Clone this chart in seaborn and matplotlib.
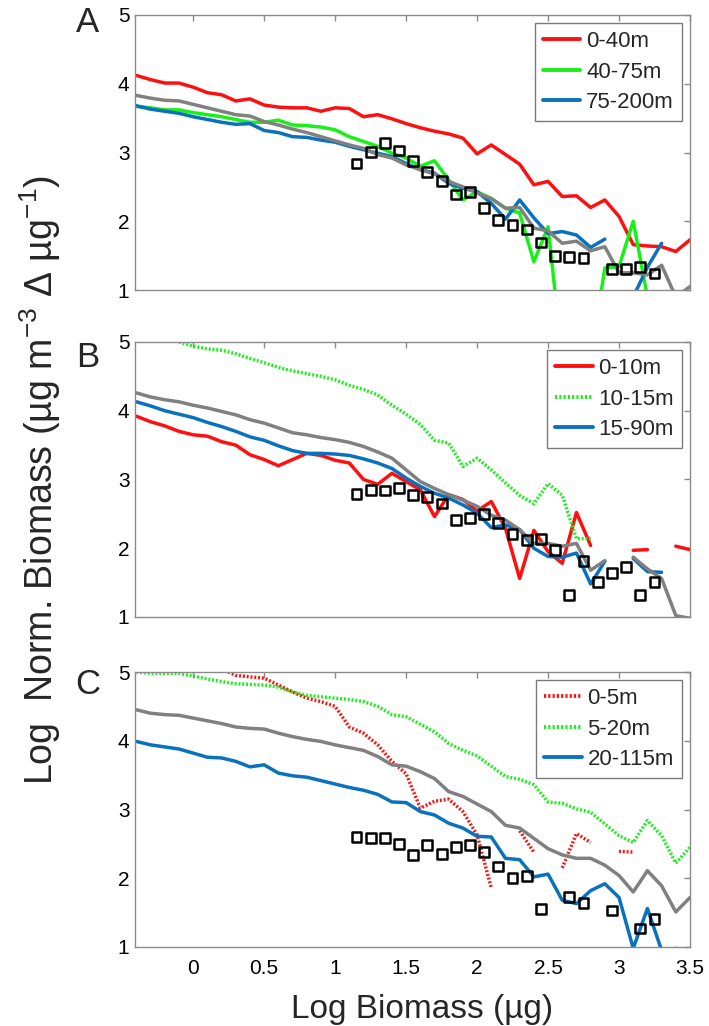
import numpy as np
import pandas as pd
import matplotlib
matplotlib.use("Agg")
import matplotlib.pyplot as plt
from matplotlib.lines import Line2D
import seaborn as sns

nan = float("nan")

# ---------------- data ----------------
LOG_MASS = [-0.4, -0.3, -0.2, -0.1, 0.0, 0.1, 0.2, 0.3, 0.4, 0.5,
            0.6, 0.7, 0.8, 0.9, 1.0, 1.1, 1.2, 1.3, 1.4, 1.5,
            1.6, 1.7, 1.8, 1.9, 2.0, 2.1, 2.2, 2.3, 2.4, 2.5,
            2.6, 2.7, 2.8, 2.9, 3.0, 3.1, 3.2, 3.3, 3.4, 3.5]

OBS_MASS = [1.15, 1.25, 1.35, 1.45, 1.55, 1.65, 1.75, 1.85, 1.95, 2.05, 2.15,
            2.25, 2.35, 2.45, 2.55, 2.65, 2.75, 2.85, 2.95, 3.05, 3.15, 3.25]

# Panel A
A_LABELS = ["0-40m", "40-75m", "75-200m"]
A_0_40 = [4.12, 4.06, 4.01, 4.01, 3.95, 3.87, 3.84, 3.75, 3.78, 3.69,
          3.66, 3.65, 3.65, 3.60, 3.65, 3.64, 3.52, 3.55, 3.49, 3.42,
          3.36, 3.31, 3.27, 3.21, 2.98, 3.11, 2.97, 2.83, 2.53, 2.58,
          2.36, 2.37, 2.20, 2.31, 2.07, 1.66, 1.64, 1.63, 1.56, 1.73]
A_40_75 = [3.67, 3.65, 3.62, 3.62, 3.58, 3.55, 3.52, 3.48, 3.44, 3.44,
           3.47, 3.40, 3.39, 3.37, 3.33, 3.23, 3.16, 3.09, 2.99, 2.92,
           2.80, 2.88, 2.60, 2.31, 2.43, 2.33, 2.19, 2.12, 1.41, 1.92,
           0.0, nan, 0.0, 1.32, 1.34, 2.00, 0.9, nan, nan, nan]
A_75_200 = [3.68, 3.63, 3.60, 3.57, 3.52, 3.48, 3.44, 3.41, 3.42, 3.32,
            3.29, 3.23, 3.22, 3.18, 3.15, 3.09, 3.04, 2.99, 2.94, 2.84,
            2.75, 2.70, 2.55, 2.48, 2.43, 2.26, 2.03, 2.31, 2.05, 1.82,
            1.85, 1.80, 1.62, 1.74, nan, 0.9, 1.33, 1.68, nan, nan]
A_ALL = [3.83, 3.79, 3.76, 3.75, 3.70, 3.65, 3.60, 3.55, 3.53, 3.45,
         3.40, 3.34, 3.29, 3.23, 3.17, 3.11, 3.06, 2.97, 2.92, 2.82,
         2.75, 2.69, 2.58, 2.50, 2.41, 2.33, 2.19, 2.20, 1.90, 1.86,
         1.68, 1.71, 1.57, 1.63, 1.25, 1.25, 1.22, 1.36, 0.9, 1.05]
A_OBS = [2.84, 3.01, 3.14, 3.03, 2.88, 2.72, 2.58, 2.39, 2.43, 2.19, 2.02,
         1.95, 1.88, 1.69, 1.49, 1.48, 1.46, nan, 1.30, 1.30, 1.34, 1.24]

# Panel B
B_LABELS = ["0-10m", "10-15m", "15-90m"]
B_0_10 = [3.92, 3.84, 3.78, 3.70, 3.65, 3.63, 3.55, 3.50, 3.36, 3.29,
          3.20, 3.29, 3.38, 3.35, 3.28, 3.24, 3.00, 2.93, 3.09, 2.97,
          2.85, 2.46, 2.78, 2.71, 2.54, 2.68, 2.29, 1.56, 2.26, 1.95,
          1.78, 2.52, 2.04, nan, nan, 1.97, 1.98, nan, 2.03, 1.98]
B_10_15 = [nan, nan, nan, 5.00, 4.94, 4.90, 4.88, 4.83, 4.76, 4.70,
           4.63, 4.58, 4.54, 4.50, 4.45, 4.37, 4.31, 4.23, 4.08, 3.95,
           3.80, 3.57, 3.53, 3.19, 3.31, 3.14, 2.95, 2.77, 2.65, 2.94,
           2.77, 2.14, 2.14, nan, nan, nan, nan, nan, nan, nan]
B_15_90 = [4.13, 4.07, 4.00, 3.95, 3.90, 3.83, 3.77, 3.70, 3.62, 3.57,
           3.49, 3.42, 3.38, 3.38, 3.37, 3.35, 3.30, 3.24, 3.16, 3.02,
           2.90, 2.80, 2.73, 2.63, 2.51, 2.30, 2.34, 2.27, 2.00, 1.88,
           1.87, 1.93, 1.48, 1.81, nan, 1.85, 1.66, 1.65, nan, nan]
B_ALL = [4.26, 4.20, 4.16, 4.13, 4.08, 4.04, 3.99, 3.94, 3.87, 3.82,
         3.75, 3.68, 3.65, 3.61, 3.58, 3.54, 3.48, 3.40, 3.31, 3.14,
         2.97, 2.87, 2.78, 2.70, 2.61, 2.48, 2.41, 2.27, 2.07, 2.07,
         2.03, 2.07, 1.68, 1.82, nan, 1.87, 1.70, 1.56, 1.02, 0.98]
B_OBS = [2.79, 2.85, 2.84, 2.88, 2.77, 2.75, 2.65, 2.41, 2.44, 2.50, 2.37,
         2.21, 2.12, 2.14, 1.97, 1.32, 1.82, 1.51, 1.64, 1.73, 1.32, 1.51]

# Panel C
C_LABELS = ["0-5m", "5-20m", "20-115m"]
C_0_5 = [nan, nan, nan, nan, nan, nan, 5.05, 4.95, 4.93, 4.91,
         4.81, 4.71, 4.62, 4.57, 4.50, 4.20, 4.11, 3.94, 3.70, 3.52,
         3.02, 3.12, 3.15, 2.97, 2.63, 1.86, nan, 2.69, 2.38, nan,
         2.15, 2.65, 2.52, nan, 2.39, 2.38, nan, nan, nan, nan]
C_5_20 = [5.00, 4.98, 4.98, 4.98, 4.94, 4.90, 4.86, 4.83, 4.82, 4.81,
          4.78, 4.71, 4.66, 4.64, 4.62, 4.60, 4.57, 4.50, 4.38, 4.35,
          4.24, 4.13, 3.96, 3.86, 3.78, 3.63, 3.48, 3.44, 3.36, 3.11,
          3.09, 3.01, 2.96, 2.79, 2.62, 2.52, 2.84, 2.62, 2.22, 2.45]
C_20_115 = [3.99, 3.94, 3.91, 3.88, 3.82, 3.76, 3.75, 3.70, 3.62, 3.65,
            3.53, 3.49, 3.47, 3.42, 3.37, 3.32, 3.28, 3.22, 3.11, 3.10,
            2.97, 2.92, 2.80, 2.73, 2.61, 2.60, 2.29, 2.27, 2.02, 2.06,
            1.68, 1.63, 1.82, 1.92, 1.72, 0.98, 1.56, 0.95, 0.98, nan]
C_ALL = [4.45, 4.40, 4.38, 4.37, 4.33, 4.29, 4.25, 4.20, 4.18, 4.17,
         4.11, 4.06, 4.02, 3.99, 3.94, 3.90, 3.86, 3.77, 3.65, 3.63,
         3.55, 3.45, 3.26, 3.19, 3.08, 2.97, 2.77, 2.73, 2.58, 2.43,
         2.34, 2.29, 2.29, 2.19, 2.04, 1.80, 2.11, 1.89, 1.51, 1.72]
C_OBS = [2.60, 2.58, 2.58, 2.50, 2.34, 2.48, 2.35, 2.45, 2.48, 2.38, 2.17,
         2.00, 2.03, 1.55, nan, 1.73, 1.64, nan, 1.53, nan, 1.27, 1.41]

X_TICKS = [0, 0.5, 1, 1.5, 2, 2.5, 3, 3.5]
X_TICKLABELS = ["0", "0.5", "1", "1.5", "2", "2.5", "3", "3.5"]
Y_TICKS = [1, 2, 3, 4, 5]
Y_TICKLABELS = ["1", "2", "3", "4", "5"]
PANEL_LETTERS = ["A", "B", "C"]

# ---------------- style ----------------
sns.set_style("white")
plt.rcParams["font.family"] = ["Liberation Sans", "DejaVu Sans"]
plt.rcParams["mathtext.fontset"] = "custom"
plt.rcParams["mathtext.rm"] = "Liberation Sans"
plt.rcParams["mathtext.it"] = "Liberation Sans:italic"
plt.rcParams["mathtext.default"] = "regular"

RED = "#ff1010"
GREEN = "#18f018"
BLUE = "#0a72bd"
GRAY = "#808080"
SPINE = "#8a8a8a"
SOLID = "-"
DOTTED = (0, (0.55, 0.55))
LW = 2.5

W, H = 709, 1026
fig = plt.figure(figsize=(W / 100, H / 100), dpi=100)

left, right = 135 / W, 690 / W
panel_px = [(15, 290), (342, 617), (672, 947)]
letter_top = [12, 347, 674]
axes = []
for top, bot in panel_px:
    ax = fig.add_axes([left, 1 - bot / H, right - left, (bot - top) / H])
    axes.append(ax)


def segments(xs, ys):
    rows = []
    seg = 0
    prev_ok = False
    for x, y in zip(xs, ys):
        ok = not np.isnan(y)
        if ok:
            if not prev_ok:
                seg += 1
            rows.append((x, y, seg))
        prev_ok = ok
    return pd.DataFrame(rows, columns=["x", "y", "seg"])


def draw_series(ax, ys, color, ls):
    df = segments(LOG_MASS, ys)
    sns.lineplot(data=df, x="x", y="y", units="seg", estimator=None,
                 sort=False, color=color, linewidth=LW, linestyle=ls,
                 legend=False, ax=ax)


panels = [
    (A_LABELS, [(A_0_40, RED, SOLID), (A_40_75, GREEN, SOLID), (A_75_200, BLUE, SOLID)], A_ALL, A_OBS),
    (B_LABELS, [(B_0_10, RED, SOLID), (B_10_15, GREEN, DOTTED), (B_15_90, BLUE, SOLID)], B_ALL, B_OBS),
    (C_LABELS, [(C_0_5, RED, DOTTED), (C_5_20, GREEN, DOTTED), (C_20_115, BLUE, SOLID)], C_ALL, C_OBS),
]

for i, (ax, (labels, series, allz, obs)) in enumerate(zip(axes, panels)):
    for ys, col, ls in series:
        draw_series(ax, ys, col, ls)
    draw_series(ax, allz, GRAY, SOLID)
    sns.scatterplot(x=OBS_MASS, y=obs, marker="s", s=50, facecolor="none",
                    edgecolor="black", linewidth=1.8, ax=ax, zorder=4)

    ax.set_xlim(-0.41, 3.5)
    ax.set_ylim(1, 5)
    ax.set_xticks(X_TICKS)
    ax.set_yticks(Y_TICKS)
    ax.set_yticklabels(Y_TICKLABELS)
    if i == 2:
        ax.set_xticklabels(X_TICKLABELS)
    else:
        ax.set_xticklabels([])
    ax.set_xlabel("")
    ax.set_ylabel("")
    ax.tick_params(direction="in", length=4, width=1, color=SPINE,
                   top=True, right=True, labelsize=15, pad=4,
                   labelcolor="black")
    ax.tick_params(axis="x", pad=9)
    for sp in ax.spines.values():
        sp.set_color(SPINE)
        sp.set_linewidth(1.0)
        sp.set_visible(True)

    handles = [Line2D([], [], color=c, lw=LW + 0.3, linestyle=ls) for _, c, ls in series]
    leg = ax.legend(handles, labels, loc="upper right", fontsize=16,
                    frameon=True, fancybox=False, framealpha=1,
                    edgecolor="#7a7a7a", handlelength=1.7, handletextpad=0.25,
                    borderpad=0.35, labelspacing=0.42, borderaxespad=0.38)
    leg.get_frame().set_linewidth(1.0)

    fig.text(88 / W, 1 - (letter_top[i] - 6) / H, PANEL_LETTERS[i], fontsize=25,
             ha="center", va="top")

axes[2].set_xlabel("Log Biomass (µg)", fontsize=24, labelpad=6)
axes[2].xaxis.set_label_coords((422 - 135) / (690 - 135), -0.17)
fig.text(40 / W, 1 - 480 / H, "Log  Norm. Biomass (µg m$^{-3}$ Δ µg$^{-1}$)",
         rotation=90, fontsize=27, ha="center", va="center")

fig.savefig("out.png", dpi=100)
